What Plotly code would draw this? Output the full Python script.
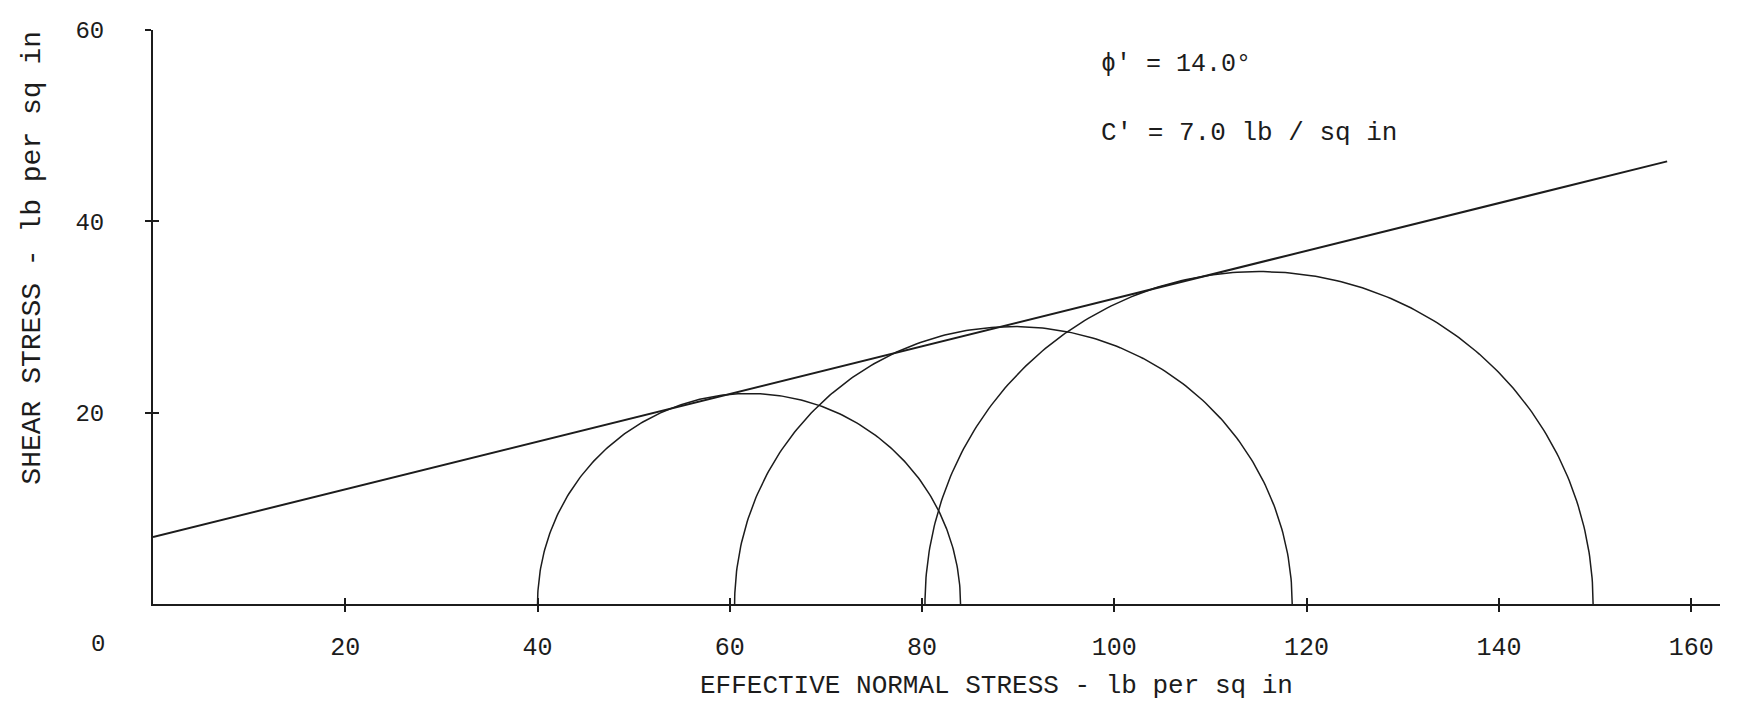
import numpy as np
import plotly.graph_objects as go

# Mohr-Coulomb strength parameters (effective stress)
phi_deg = 14.0          # angle of shearing resistance, degrees
c_eff = 7.0             # cohesion, lb / sq in

# Principal effective stresses at failure for the three tests (lb / sq in)
sigma3 = [40.0, 60.5, 80.3]
sigma1 = [84.0, 118.5, 149.8]

# Extent of the drawn failure envelope
envelope_sigma = [0.0, 157.5]

x_ticks = [20, 40, 60, 80, 100, 120, 140, 160]
y_ticks = [20, 40, 60]

X_RANGE = [0, 163]
Y_RANGE = [0, 60]

INK = "#1c1c1c"
FONT = "Liberation Mono, Courier New, monospace"

fig = go.Figure()

# Mohr circles (upper halves)
theta = np.linspace(0, np.pi, 241)
for s3, s1 in zip(sigma3, sigma1):
    centre = (s1 + s3) / 2.0
    radius = (s1 - s3) / 2.0
    fig.add_trace(go.Scatter(
        x=centre + radius * np.cos(theta),
        y=radius * np.sin(theta),
        mode="lines",
        line=dict(color=INK, width=1.5),
        hoverinfo="skip",
    ))

# Failure envelope  tau = c' + sigma tan(phi')
tan_phi = np.tan(np.radians(phi_deg))
env_x = np.array(envelope_sigma)
fig.add_trace(go.Scatter(
    x=env_x,
    y=c_eff + env_x * tan_phi,
    mode="lines",
    line=dict(color=INK, width=2),
    hoverinfo="skip",
))

# Empty trace on the overlay axes so their inward tick marks are drawn
fig.add_trace(go.Scatter(x=[None], y=[None], xaxis="x2", yaxis="y2",
                         mode="lines", hoverinfo="skip"))

tick_common = dict(ticklen=6, tickwidth=1.5, tickcolor=INK,
                   showgrid=False, zeroline=False)

fig.update_layout(
    width=1750,
    height=706,
    margin=dict(l=153, r=30, t=30, b=102, autoexpand=False),
    paper_bgcolor="white",
    plot_bgcolor="white",
    showlegend=False,
    font=dict(family=FONT, color=INK, size=24),
    xaxis=dict(
        range=X_RANGE,
        tickvals=x_ticks,
        ticktext=[str(v) for v in x_ticks],
        ticks="outside",
        showline=True,
        linecolor=INK,
        linewidth=2,
        ticklabelstandoff=13,
        tickfont=dict(size=25),
        automargin=False,
        **tick_common,
    ),
    yaxis=dict(
        range=Y_RANGE,
        tickvals=y_ticks,
        ticktext=[str(v) for v in y_ticks],
        ticks="outside",
        showline=True,
        linecolor=INK,
        linewidth=2,
        ticklabelstandoff=36,
        tickfont=dict(size=24),
        automargin=False,
        **tick_common,
    ),
    xaxis2=dict(
        overlaying="x",
        anchor="y",
        side="bottom",
        range=X_RANGE,
        tickvals=x_ticks,
        ticks="inside",
        showticklabels=False,
        showline=False,
        **tick_common,
    ),
    yaxis2=dict(
        overlaying="y",
        anchor="x",
        side="left",
        range=Y_RANGE,
        tickvals=y_ticks,
        ticks="inside",
        showticklabels=False,
        showline=False,
        **tick_common,
    ),
)

# Axis titles
fig.add_annotation(xref="paper", yref="paper", x=0.538, y=-0.142,
                   text="EFFECTIVE NORMAL STRESS - lb per sq in",
                   showarrow=False, xanchor="center", yanchor="middle",
                   font=dict(size=26, family=FONT, color=INK))
fig.add_annotation(xref="paper", yref="paper", x=-0.077, y=0.604,
                   text="SHEAR STRESS - lb per sq in", textangle=-90,
                   showarrow=False, xanchor="center", yanchor="middle",
                   font=dict(size=28, family=FONT, color=INK))

# Origin label sits below and to the left of the corner
fig.add_annotation(xref="paper", yref="paper", x=-0.035, y=-0.071,
                   text="0", showarrow=False,
                   xanchor="center", yanchor="middle",
                   font=dict(size=24, family=FONT, color=INK))

# Strength parameters
fig.add_annotation(x=98.4, y=56.4, text="ϕ' = %.1f°" % phi_deg,
                   showarrow=False, xanchor="left", yanchor="middle",
                   font=dict(size=25, family=FONT, color=INK))
fig.add_annotation(x=98.4, y=49.2, text="C' = %.1f lb / sq in" % c_eff,
                   showarrow=False, xanchor="left", yanchor="middle",
                   font=dict(size=26, family=FONT, color=INK))

fig.write_html("out.html")
